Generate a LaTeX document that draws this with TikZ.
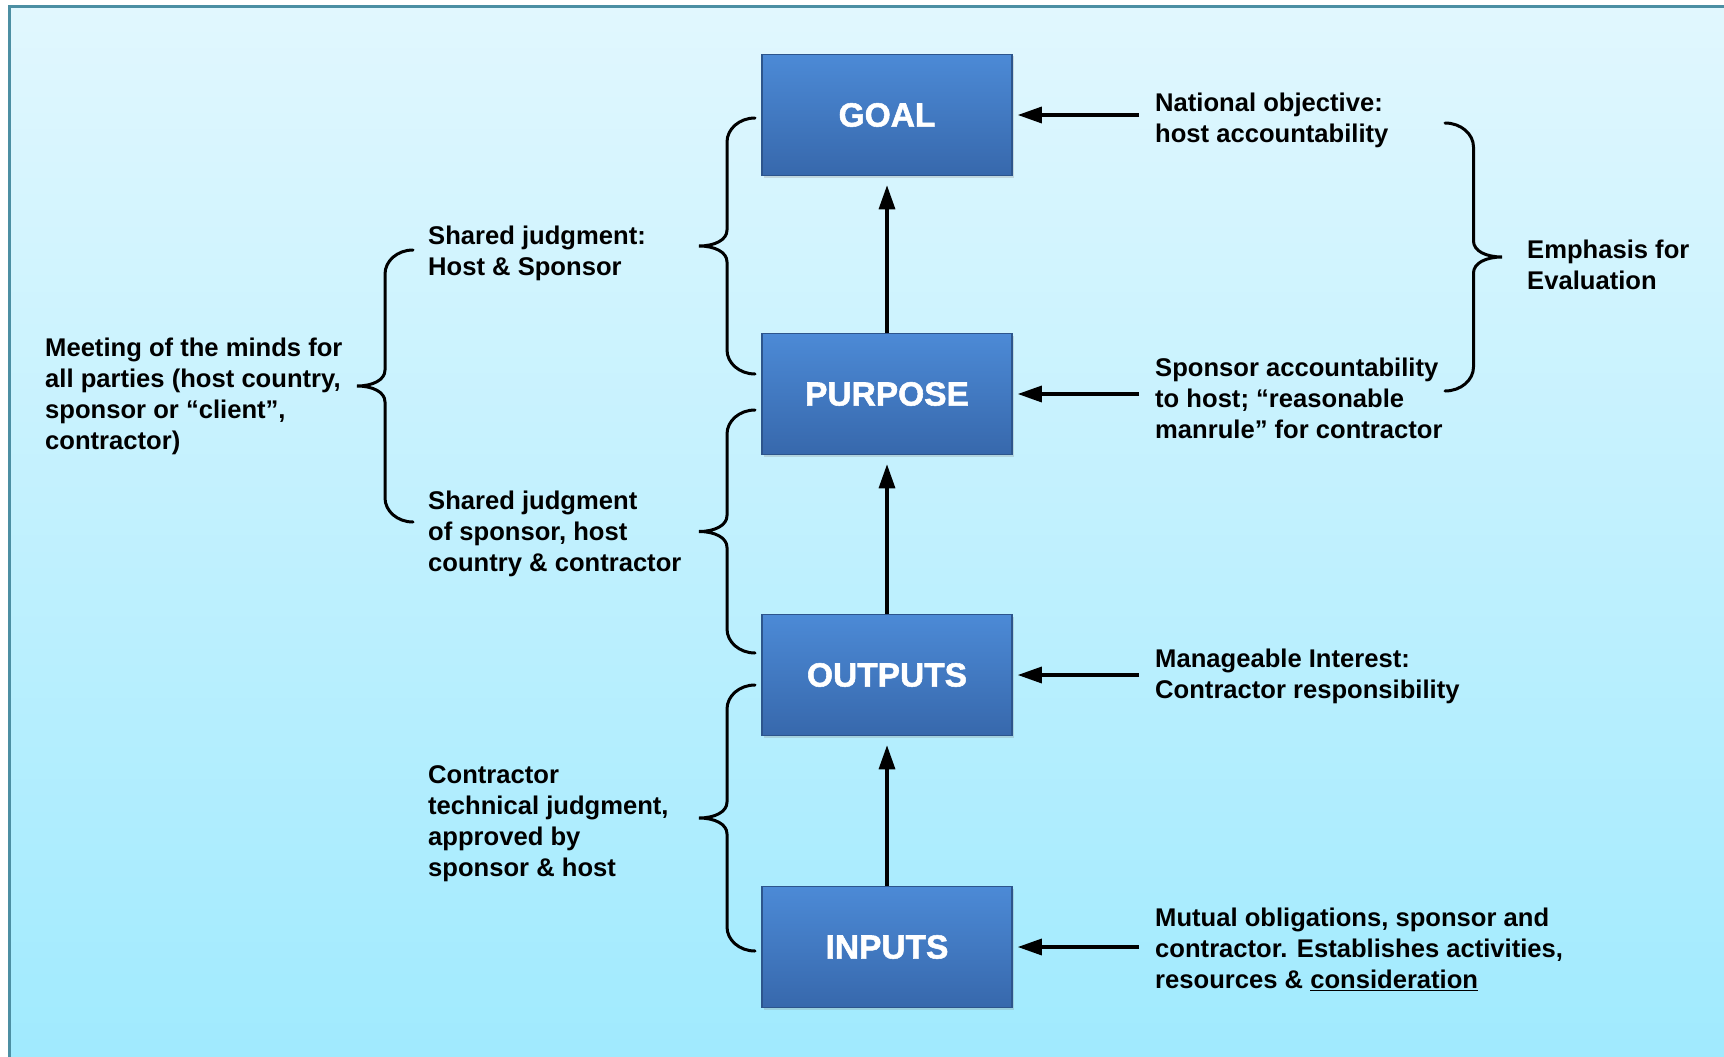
\documentclass[tikz,border=0pt]{standalone}
\usepackage{fontspec}
\setmainfont{Liberation Sans}
\newfontfamily\stagefont{Liberation Sans}[BoldFeatures={FakeBold=1.6}]
\usetikzlibrary{arrows.meta, positioning, calc, shadows}

\definecolor{bgtop}{RGB}{225, 247, 254}
\definecolor{bgbot}{RGB}{160, 234, 254}
\definecolor{framecol}{RGB}{76, 143, 163}
\definecolor{boxtop}{RGB}{76, 138, 214}
\definecolor{boxbot}{RGB}{55, 104, 172}
\definecolor{boxedge}{RGB}{45, 85, 140}

\tikzset{
  stage/.style={draw=boxedge, line width=1.5pt, top color=boxtop, bottom color=boxbot,
    minimum width=250pt, minimum height=121pt, inner sep=0pt, text=white,
    font=\fontsize{33.5}{38}\selectfont\stagefont\bfseries,
    drop shadow={opacity=0.25, shadow xshift=2pt, shadow yshift=-2pt}},
  note/.style={anchor=west, align=left, inner sep=0pt, font=\fontsize{25.6}{31}\selectfont\bfseries},
  arr/.style={line width=3.2pt, -{Triangle[length=24pt, width=16pt]}},
  curl/.style={line width=3pt, line cap=round}
}

% curly brace: x of the ends, top y, bottom y, depth (negative points right)
\newcommand{\curlybrace}[4]{%
  \draw[curl] (#1,#2) .. controls ({#1-0.28*#4},#2) and ({#1-#4/2},{#2+11}) .. ({#1-#4/2},{#2+24})
    -- ({#1-#4/2},{(#2+#3)/2-16}) .. controls ({#1-#4/2},{(#2+#3)/2-6}) and ({#1-0.72*#4},{(#2+#3)/2}) .. ({#1-#4},{(#2+#3)/2})
    .. controls ({#1-0.72*#4},{(#2+#3)/2}) and ({#1-#4/2},{(#2+#3)/2+6}) .. ({#1-#4/2},{(#2+#3)/2+16})
    -- ({#1-#4/2},{#3-24}) .. controls ({#1-#4/2},{#3-11}) and ({#1-0.28*#4},#3) .. (#1,#3);}

\begin{document}
\begin{tikzpicture}[x=1pt, y=-1pt]
  \useasboundingbox (0,0) rectangle (1724,1057);
  \clip (0,0) rectangle (1724,1057);

  % Background panel
  \fill[top color=bgtop, bottom color=bgbot] (9,7) rectangle (1730,1063);
  \draw[framecol, line width=3pt] (9,1063) -- (9,7) -- (1730,7);

  % Logframe levels
  \node[stage] (goal) at (887,115) {GOAL};
  \node[stage] (purpose) at (887,394) {PURPOSE};
  \node[stage] (outputs) at (887,675) {OUTPUTS};
  \node[stage] (inputs) at (887,947) {INPUTS};

  \draw[arr, shorten >=9pt] (purpose.north) -- (goal.south);
  \draw[arr, shorten >=9pt] (outputs.north) -- (purpose.south);
  \draw[arr, shorten >=9pt] (inputs.north) -- (outputs.south);

  % Right side notes
  \node[note] (natobj) at (1155,120.5) {National objective:\\host accountability};
  \node[note] (sponsacc) at (1155,398.5) {Sponsor accountability\\to host; “reasonable\\manrule” for contractor};
  \node[note] (mgmtint) at (1155,676.5) {Manageable Interest:\\Contractor responsibility};
  \node[note] (mutual) at (1155,949.5) {Mutual obligations, sponsor and\\contractor. Establishes activities,\\resources \& \underline{consideration}};
  \node[note] (emph) at (1527,264.5) {Emphasis for\\Evaluation};

  \draw[arr, shorten <=16pt, shorten >=5pt] (natobj.west |- goal) -- (goal.east);
  \draw[arr, shorten <=16pt, shorten >=5pt] (sponsacc.west |- purpose) -- (purpose.east);
  \draw[arr, shorten <=16pt, shorten >=5pt] (mgmtint.west |- outputs) -- (outputs.east);
  \draw[arr, shorten <=16pt, shorten >=5pt] (mutual.west |- inputs) -- (inputs.east);

  \curlybrace{1445}{123}{391}{-57}

  % Left side notes
  \node[note] (shared1) at (428,253.5) {Shared judgment:\\Host \& Sponsor};
  \node[note] (shared2) at (428,533.5) {Shared judgment\\of sponsor, host\\country \& contractor};
  \node[note] (contr) at (428,823.5) {Contractor\\technical judgment,\\approved by\\sponsor \& host};
  \node[note] (meeting) at (45,396.5) {Meeting of the minds for\\all parties (host country,\\sponsor or “client”,\\contractor)};

  \curlybrace{755}{118}{374}{56}
  \curlybrace{755}{410}{653}{56}
  \curlybrace{755}{685}{951}{56}
  \curlybrace{413}{250}{522}{56}
\end{tikzpicture}
\end{document}
